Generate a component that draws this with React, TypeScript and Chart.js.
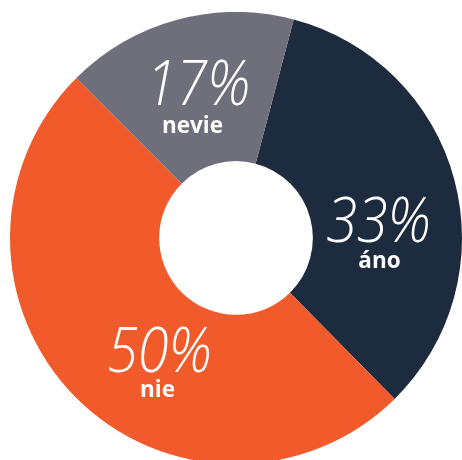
import React, { useEffect, useRef } from "react";
import { Chart, registerables } from "chart.js";

Chart.register(...registerables);

const categories = ["áno", "nie", "nevie"];
const values = [33.5, 49.9, 16.6];
const percentLabels = ["33%", "50%", "17%"];
const colors = ["#1c2b3d", "#f15a2a", "#6f6f7b"];

// label placement relative to chart centre (px offsets for percent and name baselines)
const labelOffsets = [
  { px: 142.5, py: 3.7, nx: 143.5, ny: 30 },
  { px: -76.5, py: 133.7, nx: -78.5, ny: 159 },
  { px: -38, py: -133, nx: -43.5, ny: -105 },
];

const labelPlugin = {
  id: "sliceLabels",
  afterDatasetsDraw(chart: any) {
    const meta = chart.getDatasetMeta(0);
    const ctx = chart.ctx as CanvasRenderingContext2D;
    meta.data.forEach((arc: any, i: number) => {
      const cx = arc.x;
      const cy = arc.y;
      const o = labelOffsets[i];
      ctx.save();
      ctx.fillStyle = "#ffffff";
      ctx.textAlign = "center";
      ctx.textBaseline = "alphabetic";
      ctx.font = "italic 300 62px 'Open Sans'";
      ctx.translate(cx + o.px, cy + o.py);
      ctx.scale(0.9, 1);
      ctx.fillText(percentLabels[i], 0, 0);
      ctx.restore();
      ctx.save();
      ctx.fillStyle = "#ffffff";
      ctx.textAlign = "center";
      ctx.textBaseline = "alphabetic";
      ctx.font = "bold 22.5px 'Open Sans'";
      ctx.fillText(categories[i], cx + o.nx, cy + o.ny);
      ctx.restore();
    });
  },
};

export default function App() {
  const ref = useRef<HTMLCanvasElement | null>(null);
  useEffect(() => {
    if (!ref.current) return;
    const chart = new Chart(ref.current, {
      type: "doughnut",
      data: {
        labels: categories,
        datasets: [
          {
            data: values,
            backgroundColor: colors,
            borderWidth: 0,
          },
        ],
      },
      options: {
        animation: false,
        responsive: true,
        maintainAspectRatio: false,
        rotation: 14.8,
        cutout: "34%",
        layout: { padding: 0 },
        plugins: {
          legend: { display: false },
          tooltip: { enabled: false },
        },
      },
      plugins: [labelPlugin],
    });
    return () => chart.destroy();
  }, []);
  return (
    <div style={{ position: "fixed", left: 0, top: 0, width: 462, height: 460, overflow: "hidden", background: "#fff" }}>
      <div style={{ position: "absolute", left: 10, top: 12, width: 452, height: 452 }}>
        <canvas ref={ref} />
      </div>
    </div>
  );
}
